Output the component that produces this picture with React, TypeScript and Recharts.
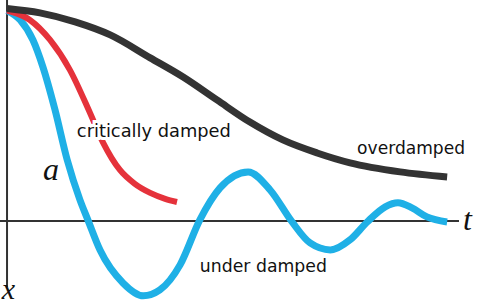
import React from "react";
import { LineChart, Line, XAxis, YAxis, ReferenceLine, ReferenceDot } from "recharts";

// time values and displacement (a = 1)
const underT = [0, 0.3, 0.59, 0.82, 1.09, 1.37, 1.66, 1.84, 2.12, 2.64, 3.1, 3.48, 3.94, 4.39, 4.85, 5.49, 5.99, 6.49, 6.9, 7.36, 7.81, 8.2, 8.61, 8.9, 9.22, 9.56, 10.02];
const underX = [1.0, 0.955, 0.86, 0.73, 0.53, 0.29, 0.1, 0.005, -0.14, -0.295, -0.356, -0.328, -0.209, 0.005, 0.157, 0.233, 0.147, -0.005, -0.105, -0.138, -0.09, -0.005, 0.067, 0.086, 0.062, 0.019, -0.005];

const critT = [0, 0.52, 0.98, 1.43, 1.89, 2.19, 2.57, 2.91, 3.26, 3.6, 3.87];
const critX = [1.0, 0.955, 0.86, 0.718, 0.513, 0.371, 0.242, 0.176, 0.133, 0.105, 0.09];

const overT = [0, 0.75, 1.55, 2.35, 3.26, 4.01, 4.78, 5.53, 6.28, 7.06, 7.81, 8.95, 10.02];
const overX = [1.01, 0.989, 0.946, 0.884, 0.775, 0.684, 0.575, 0.47, 0.385, 0.323, 0.276, 0.233, 0.209];

const zip = (ts: number[], xs: number[]) => ts.map((t, i) => ({ t, x: xs[i] }));
const underData = zip(underT, underX);
const critData = zip(critT, critX);
const overData = zip(overT, overX);

const AXIS = "#333333";
const comic = "'DejaVu Sans', sans-serif";
const serif = "'Liberation Serif', 'DejaVu Serif', serif";

// text drawn at a reference dot, with a white halo so curves pass behind it
const textShape = (txt: string, size: number, font: string, italic: boolean, len?: number) => (p: any) => (
  <text
    x={p.cx}
    y={p.cy}
    fontSize={size}
    fontFamily={font}
    fontStyle={italic ? "italic" : "normal"}
    fill="#111"
    stroke={italic ? "none" : "#fff"}
    strokeWidth={6}
    paintOrder="stroke"
    textLength={len}
    lengthAdjust="spacingAndGlyphs"
  >
    {txt}
  </text>
);

export default function App() {
  return (
    <div style={{ position: "fixed", left: 0, top: 0, background: "#fff" }}>
      <LineChart width={477} height={304} margin={{ top: 0, right: 0, bottom: 0, left: 0 }}>
        <XAxis type="number" dataKey="t" domain={[-0.16, 10.7]} allowDataOverflow hide />
        <YAxis type="number" dataKey="x" domain={[-0.395, 1.05]} allowDataOverflow hide />

        <ReferenceLine
          segment={[{ x: -0.16, y: 0 }, { x: 10.29, y: 0 }]}
          stroke={AXIS}
          strokeWidth={2}
          ifOverflow="visible"
        />
        <ReferenceLine
          segment={[{ x: 0, y: 1.05 }, { x: 0, y: -0.314 }]}
          stroke={AXIS}
          strokeWidth={2}
          ifOverflow="visible"
        />

        <Line data={underData} dataKey="x" type="monotone" stroke="#1fb0e6" strokeWidth={7} dot={false} activeDot={false} isAnimationActive={false} />
        <Line data={critData} dataKey="x" type="monotone" stroke="#e5323b" strokeWidth={6} dot={false} activeDot={false} isAnimationActive={false} />
        <Line data={overData} dataKey="x" type="monotone" stroke="#333333" strokeWidth={7} dot={false} activeDot={false} isAnimationActive={false} />

        <ReferenceDot x={1.59} y={0.4} r={0} ifOverflow="visible" shape={textShape("critically damped", 18, comic, false, 154)} />
        <ReferenceDot x={7.97} y={0.318} r={0} ifOverflow="visible" shape={textShape("overdamped", 18, comic, false, 108)} />
        <ReferenceDot x={4.39} y={-0.242} r={0} ifOverflow="visible" shape={textShape("under damped", 18, comic, false, 127)} />
        <ReferenceDot x={0.82} y={0.195} r={0} ifOverflow="visible" shape={textShape("a", 32, serif, true)} />
        <ReferenceDot x={10.38} y={-0.043} r={0} ifOverflow="visible" shape={textShape("t", 32, serif, true)} />
        <ReferenceDot x={-0.12} y={-0.37} r={0} ifOverflow="visible" shape={textShape("x", 30, serif, true)} />
      </LineChart>
    </div>
  );
}
